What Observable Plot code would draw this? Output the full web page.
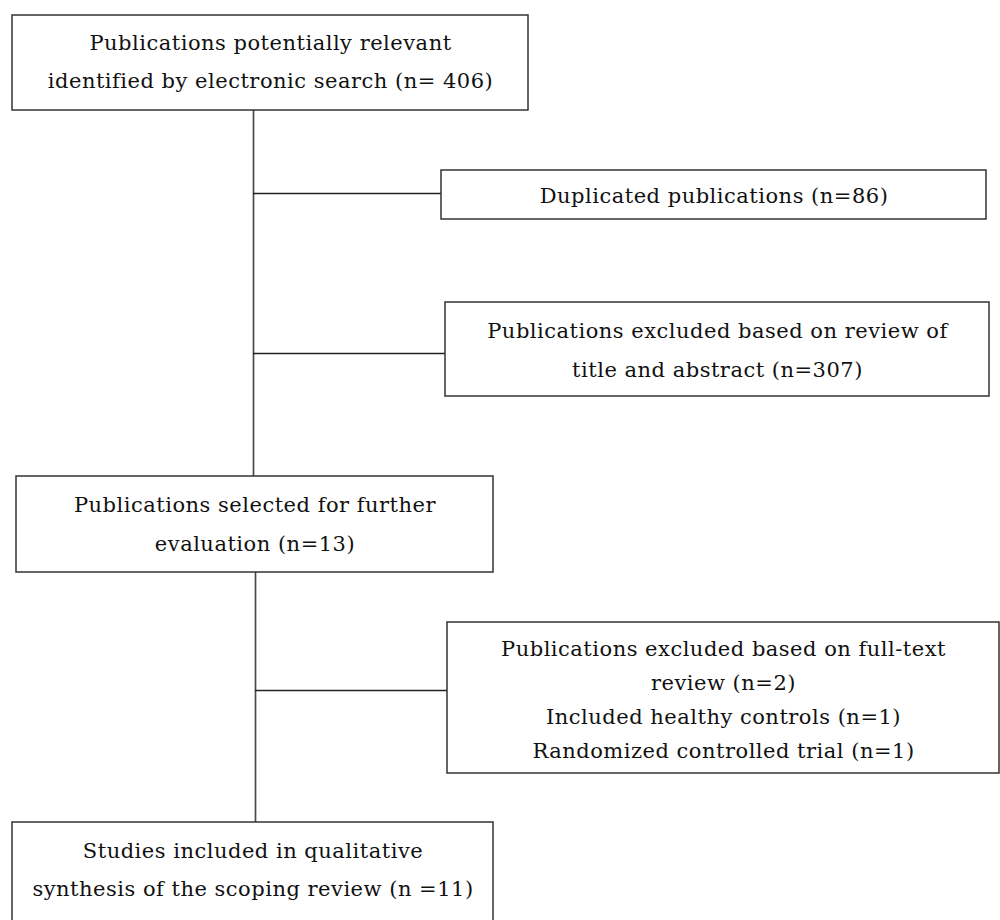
<!DOCTYPE html>
<html>
<head>
<meta charset="utf-8">
<script src="https://cdn.jsdelivr.net/npm/d3@7"></script>
<script src="https://cdn.jsdelivr.net/npm/@observablehq/plot@0.6"></script>
<style>
  html, body { margin: 0; padding: 0; background: #fff; }
  #chart svg { display: block; }
  #chart svg text { letter-spacing: 0.5px; }
</style>
</head>
<body>
<div id="chart"></div>
<script>
// ---- content ----
const boxLabels = [
  ["Publications potentially relevant", "identified by electronic search (n= 406)"],
  ["Duplicated publications (n=86)"],
  ["Publications excluded based on review of", "title and abstract (n=307)"],
  ["Publications selected for further", "evaluation (n=13)"],
  ["Publications excluded based on full-text", "review (n=2)", "Included healthy controls (n=1)", "Randomized controlled trial (n=1)"],
  ["Studies included in qualitative", "synthesis of the scoping review (n =11)"]
];

// ---- layout (flowchart geometry) ----
const boxX1 = [12, 441, 445, 16, 447, 12];
const boxX2 = [528, 986, 989, 493, 999, 493];
const boxY1 = [15, 170, 302, 476, 622, 822];
const boxY2 = [110, 219, 396, 572, 773, 930];
const textMid = [62, 196, 350, 524, 700, 870];
const lineGap = [38, 0, 39, 39, 34, 38];

const vX = [253, 255];
const vY1 = [110, 572];
const vY2 = [476, 822];
const hY = [193, 353, 690];
const hX1 = [253, 253, 255];
const hX2 = [441, 445, 447];

const boxes = boxLabels.map((l, i) => ({x1: boxX1[i], x2: boxX2[i], y1: boxY1[i], y2: boxY2[i]}));
const lines = boxLabels.flatMap((l, i) => l.map((t, j) => ({
  t,
  cx: (boxX1[i] + boxX2[i]) / 2,
  cy: textMid[i] + (j - (l.length - 1) / 2) * lineGap[i]
})));
const vLinks = vX.map((x, i) => ({x, y1: vY1[i], y2: vY2[i]}));
const hLinks = hY.map((y, i) => ({y, x1: hX1[i], x2: hX2[i]}));

const chart = Plot.plot({
  width: 1000,
  height: 920,
  margin: 0,
  x: {domain: [0, 1000], range: [0, 1000], axis: null},
  y: {domain: [0, 920], range: [0, 920], axis: null},
  style: {background: "#fff"},
  marks: [
    Plot.ruleX(vLinks, {x: "x", y1: "y1", y2: "y2", stroke: "#4a4a4a", strokeWidth: 1.7}),
    Plot.ruleY(hLinks, {y: "y", x1: "x1", x2: "x2", stroke: "#222", strokeWidth: 1.4}),
    Plot.rect(boxes, {x1: "x1", x2: "x2", y1: "y1", y2: "y2", fill: "#fff", stroke: "#333", strokeWidth: 1.5}),
    Plot.text(lines, {x: "cx", y: "cy", text: "t", fontFamily: "DejaVu Serif", fontSize: 21, fill: "#111"})
  ]
});
document.getElementById("chart").append(chart);
</script>
</body>
</html>
